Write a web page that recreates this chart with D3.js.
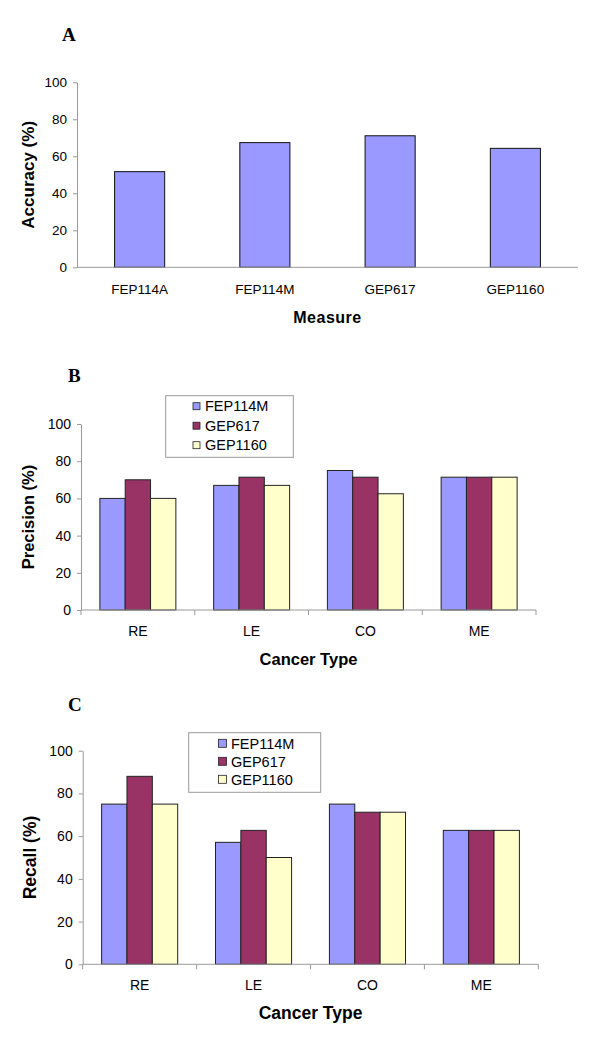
<!DOCTYPE html>
<html><head><meta charset="utf-8">
<script src="https://cdn.jsdelivr.net/npm/d3@7"></script>
<style>
html,body{margin:0;padding:0;background:#fff;}
svg{display:block;}
text{font-family:"Liberation Sans",Arial,sans-serif;fill:#000;}
text.letter{font-family:"Liberation Serif","Times New Roman",serif;}
</style></head>
<body>
<svg id="chart" width="600" height="1050"></svg>
<script>
// ---- Data ----
const measures = ["FEP114A", "FEP114M", "GEP617", "GEP1160"];
const accuracy = [51.7, 67.4, 71.1, 64.3];

const cancerTypes = ["RE", "LE", "CO", "ME"];
const seriesNames = ["FEP114M", "GEP617", "GEP1160"];
const precisionFEP114M = [60, 67, 75, 71.4];
const precisionGEP617  = [70, 71.4, 71.4, 71.4];
const precisionGEP1160 = [60, 67, 62.5, 71.4];
const recallFEP114M = [75, 57.1, 75, 62.7];
const recallGEP617  = [88, 62.7, 71.2, 62.7];
const recallGEP1160 = [75, 50, 71.2, 62.7];

const yTicks = [0, 20, 40, 60, 80, 100];
const colors = ["#9999FF", "#993366", "#FFFFCC"];

const svg = d3.select("#chart");

function yAxisDraw(g, y, x0, fontSize) {
  const ax = g.append("g").attr("transform", `translate(${x0},0)`)
    .call(d3.axisLeft(y).tickValues(yTicks).tickSize(4).tickPadding(6).tickSizeOuter(0));
  ax.select(".domain").attr("stroke", "#999");
  ax.selectAll(".tick line").attr("stroke", "#999");
  ax.selectAll(".tick text").attr("font-size", fontSize).attr("fill", "#000");
}

// ---- Panel A ----
(function(){
  const g = svg.append("g");
  const x = d3.scaleBand().domain(measures).range([77, 578]).paddingInner(0.6).paddingOuter(0.3);
  const y = d3.scaleLinear().domain([0, 100]).range([267.3, 82.3]);
  g.selectAll("rect.bar").data(measures).join("rect")
    .attr("x", d => x(d)).attr("width", x.bandwidth())
    .attr("y", (d, i) => y(accuracy[i])).attr("height", (d, i) => y(0) - y(accuracy[i]))
    .attr("fill", colors[0]).attr("stroke", "#111").attr("stroke-width", 1);
  yAxisDraw(g, y, 77, 13.5);
  g.append("line").attr("x1", 77).attr("x2", 578).attr("y1", y(0)).attr("y2", y(0)).attr("stroke", "#999");
  g.selectAll("text.xl").data(measures).join("text")
    .attr("x", d => x(d) + x.bandwidth() / 2).attr("y", 294)
    .attr("text-anchor", "middle").attr("font-size", 13.5).text(d => d);
  g.append("text").attr("x", 327.5).attr("y", 323).attr("text-anchor", "middle")
    .attr("font-size", 16).attr("font-weight", "bold").attr("letter-spacing", 0.5).text("Measure");
  g.append("text").attr("transform", `translate(34,${(82.3+267.3)/2}) rotate(-90)`)
    .attr("text-anchor", "middle").attr("font-size", 17).attr("font-weight", "bold").text("Accuracy (%)");
  g.append("text").attr("class", "letter").attr("x", 62).attr("y", 41)
    .attr("font-size", 19).attr("font-weight", "bold").text("A");
})();

// ---- Grouped panels ----
function grouped(opts) {
  const g = svg.append("g");
  const x = d3.scaleBand().domain(cancerTypes).range([opts.x0, opts.x1]).paddingInner(0.332).paddingOuter(0.166);
  const xs = d3.scaleBand().domain(seriesNames).range([0, x.bandwidth()]).padding(0);
  const y = d3.scaleLinear().domain([0, 100]).range([opts.yb, opts.yt]);
  const series = opts.series;
  seriesNames.forEach((s, si) => {
    g.selectAll(null).data(cancerTypes).join("rect")
      .attr("x", d => x(d) + xs(s)).attr("width", xs.bandwidth())
      .attr("y", (d, i) => y(series[si][i])).attr("height", (d, i) => y(0) - y(series[si][i]))
      .attr("fill", colors[si]).attr("stroke", "#222").attr("stroke-width", 1);
  });
  yAxisDraw(g, y, opts.x0, opts.tickFont);
  g.append("line").attr("x1", opts.x0).attr("x2", opts.x1).attr("y1", y(0)).attr("y2", y(0)).attr("stroke", "#999");
  const step = x.step();
  const bounds = d3.range(cancerTypes.length + 1).map(i => opts.x0 + i * step);
  g.selectAll(null).data(bounds).join("line")
    .attr("x1", d => d).attr("x2", d => d).attr("y1", y(0)).attr("y2", y(0) + 5).attr("stroke", "#999");
  g.selectAll(null).data(cancerTypes).join("text")
    .attr("x", d => x(d) + x.bandwidth() / 2).attr("y", opts.labelY)
    .attr("text-anchor", "middle").attr("font-size", opts.tickFont).text(d => d);
  g.append("text").attr("x", (opts.x0 + opts.x1) / 2).attr("y", opts.titleY).attr("text-anchor", "middle")
    .attr("font-size", opts.titleFont).attr("font-weight", "bold").text("Cancer Type");
  g.append("text").attr("transform", `translate(${opts.ytX},${(opts.yb + opts.yt) / 2}) rotate(-90)`)
    .attr("text-anchor", "middle").attr("font-size", opts.titleFont).attr("font-weight", "bold").text(opts.yTitle);
  g.append("text").attr("class", "letter").attr("x", 68).attr("y", opts.letterY)
    .attr("font-size", 19).attr("font-weight", "bold").text(opts.letter);
  // legend
  const L = opts.legend;
  g.append("rect").attr("x", L.x).attr("y", L.y).attr("width", L.w).attr("height", L.h)
    .attr("fill", "#fff").attr("stroke", "#999");
  seriesNames.forEach((s, si) => {
    const cy = L.y + L.first + si * L.gap;
    g.append("rect").attr("x", L.sx).attr("y", cy - L.sq / 2).attr("width", L.sq).attr("height", L.sq)
      .attr("fill", colors[si]).attr("stroke", "#222").attr("stroke-width", 0.8);
    g.append("text").attr("x", L.tx).attr("y", cy).attr("dy", "0.36em").attr("font-size", 14.5).text(s);
  });
}

grouped({
  x0: 81, x1: 536, yb: 610, yt: 424, tickFont: 14,
  series: [precisionFEP114M, precisionGEP617, precisionGEP1160],
  labelY: 636, titleY: 665, titleFont: 16.5, yTitle: "Precision (%)", ytX: 34,
  letter: "B", letterY: 382,
  legend: {x: 165.7, y: 395.7, w: 127.6, h: 61.6, first: 10.5, gap: 19.5, sx: 193, sq: 7, tx: 205}
});

grouped({
  x0: 82.7, x1: 538.3, yb: 964.3, yt: 750.7, tickFont: 14,
  series: [recallFEP114M, recallGEP617, recallGEP1160],
  labelY: 990, titleY: 1019, titleFont: 17.5, yTitle: "Recall (%)", ytX: 36,
  letter: "C", letterY: 711,
  legend: {x: 188.7, y: 732.7, w: 132, h: 59.6, first: 10.6, gap: 18, sx: 218.5, sq: 8, tx: 231}
});
</script>
</body></html>
